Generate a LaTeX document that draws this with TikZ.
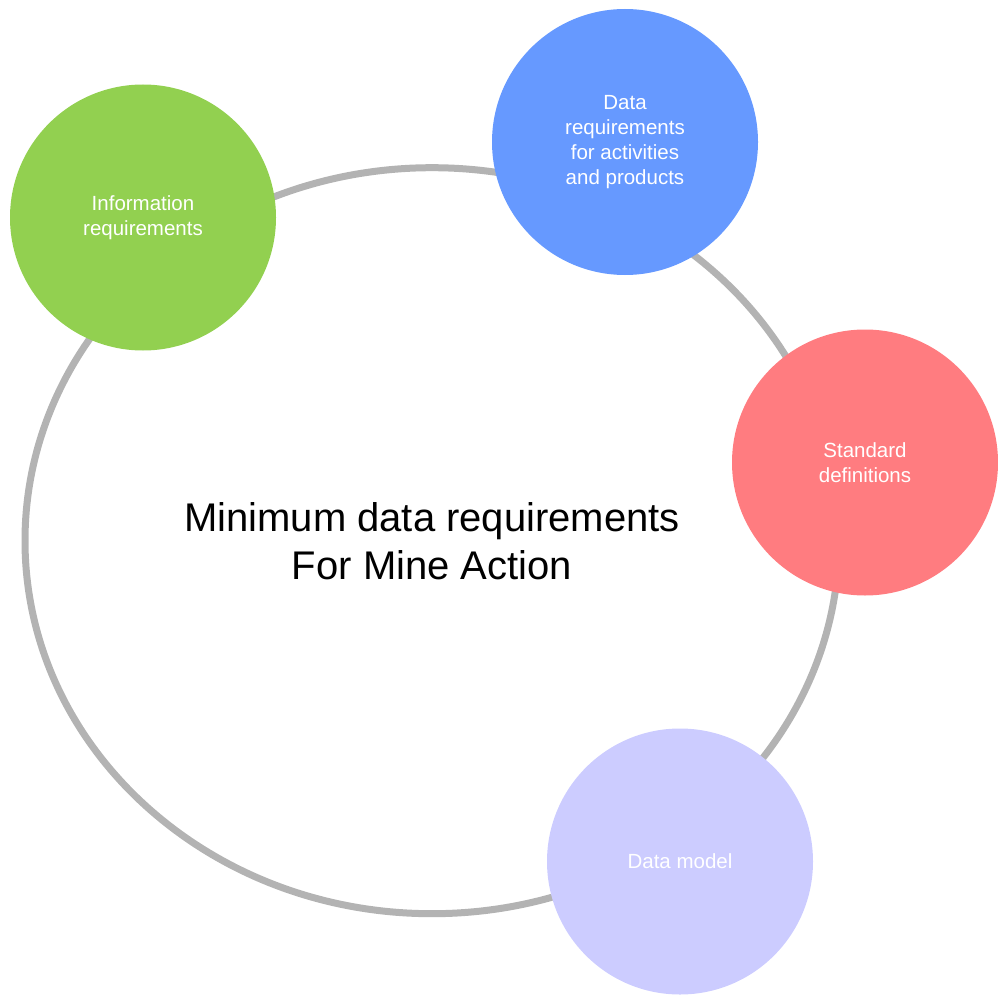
\documentclass[tikz,border=0pt]{standalone}
\usepackage{fontspec}
\setmainfont{Liberation Sans}
\usetikzlibrary{shapes.geometric}
\definecolor{ringgray}{HTML}{B3B3B3}
\definecolor{cgreen}{HTML}{92D050}
\definecolor{cblue}{HTML}{6699FF}
\definecolor{cred}{HTML}{FF7C80}
\definecolor{clav}{HTML}{CCCCFF}
\tikzset{
  ring/.style={draw=ringgray, line width=7pt, ellipse, inner sep=0pt,
    minimum width=814pt, minimum height=746pt, align=center,
    font=\fontsize{40}{48}\selectfont, text=black},
  bubble/.style={circle, inner sep=0pt, minimum size=266pt, draw=none,
    align=center, text=white, font=\fontsize{20.5}{25}\selectfont}
}
\begin{document}
\begin{tikzpicture}[x=1pt, y=-1pt]
\useasboundingbox (0,0) rectangle (998,995);
\node[ring] (hub) at (432,540.7) {Minimum data requirements\\For Mine Action};
\node[bubble, fill=cgreen] (info) at (143,217.5) {Information\\requirements};
\node[bubble, fill=cblue] (datareq) at (625,142) {Data\\requirements\\for activities\\and products};
\node[bubble, fill=cred] (stddef) at (865,462.5) {Standard\\definitions};
\node[bubble, fill=clav] (model) at (680,861.5) {Data model};
\end{tikzpicture}
\end{document}
